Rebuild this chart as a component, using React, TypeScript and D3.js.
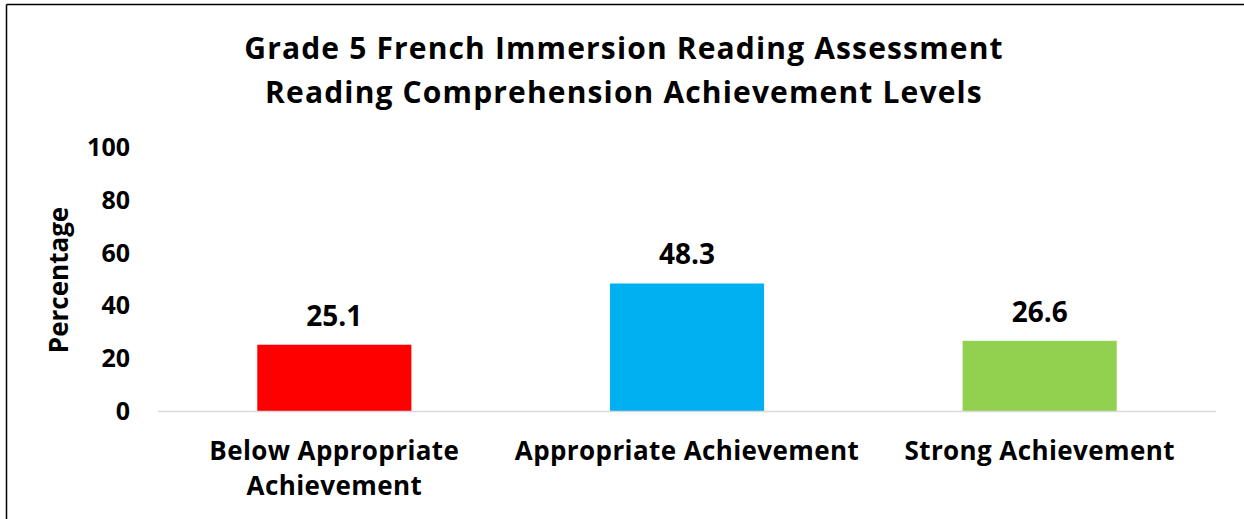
import React from "react";
import * as d3 from "d3";

const categories: string[][] = [
  ["Below Appropriate", "Achievement"],
  ["Appropriate Achievement"],
  ["Strong Achievement"],
];
const values: number[] = [25.1, 48.3, 26.6];
const colors: string[] = ["#FF0000", "#00B0F0", "#92D050"];
const yTicks: number[] = [0, 20, 40, 60, 80, 100];
const titleLines: string[] = [
  "Grade 5 French Immersion Reading Assessment",
  "Reading Comprehension Achievement Levels",
];
const yAxisTitle = "Percentage";

const W = 1244;
const H = 519;
const plotLeft = 158;
const plotRight = 1216;
const plotTop = 147;
const plotBottom = 411;
const FONT = "'Open Sans', sans-serif";

export default function App() {
  const x = d3
    .scaleBand<number>()
    .domain(values.map((_, i) => i))
    .range([plotLeft, plotRight])
    .paddingInner(0.563)
    .paddingOuter(0.2815);
  const y = d3.scaleLinear().domain([0, 100]).range([plotBottom, plotTop]);

  return (
    <svg
      width={W}
      height={H}
      style={{ position: "absolute", left: 0, top: 0, background: "#fff" }}
      fontFamily={FONT}
      fontWeight={700}
    >
      <rect x={0} y={0} width={W} height={H} fill="#fff" />
      <line x1={6.5} y1={4.5} x2={W} y2={4.5} stroke="#000" strokeWidth={1.5} />
      <line x1={6.5} y1={4.5} x2={6.5} y2={H} stroke="#000" strokeWidth={1.5} />
      {titleLines.map((t, i) => (
        <text
          key={i}
          x={624}
          y={59 + i * 44}
          textAnchor="middle"
          fontSize={30}
          letterSpacing={1.15}
          fill="#000"
        >
          {t}
        </text>
      ))}
      <text
        transform={`translate(68,280) rotate(-90)`}
        textAnchor="middle"
        fontSize={26}
        fill="#000"
      >
        {yAxisTitle}
      </text>
      {yTicks.map((t) => (
        <text key={t} x={130} y={y(t)} dy="0.36em" textAnchor="end" fontSize={25} fill="#000">
          {t}
        </text>
      ))}
      {values.map((v, i) => (
        <g key={i}>
          <rect x={x(i)} y={y(v)} width={x.bandwidth()} height={plotBottom - y(v)} fill={colors[i]} />
          <text
            x={(x(i) as number) + x.bandwidth() / 2}
            y={y(v) - 19}
            textAnchor="middle"
            fontSize={28}
            fill="#000"
          >
            {v.toFixed(1)}
          </text>
          {categories[i].map((line, j) => (
            <text
              key={j}
              x={(x(i) as number) + x.bandwidth() / 2}
              y={460 + j * 35}
              textAnchor="middle"
              fontSize={26}
              letterSpacing={0.4}
              fill="#000"
            >
              {line}
            </text>
          ))}
        </g>
      ))}
      <line x1={plotLeft} y1={plotBottom + 0.5} x2={plotRight} y2={plotBottom + 0.5} stroke="#D9D9D9" strokeWidth={1.5} />
    </svg>
  );
}
